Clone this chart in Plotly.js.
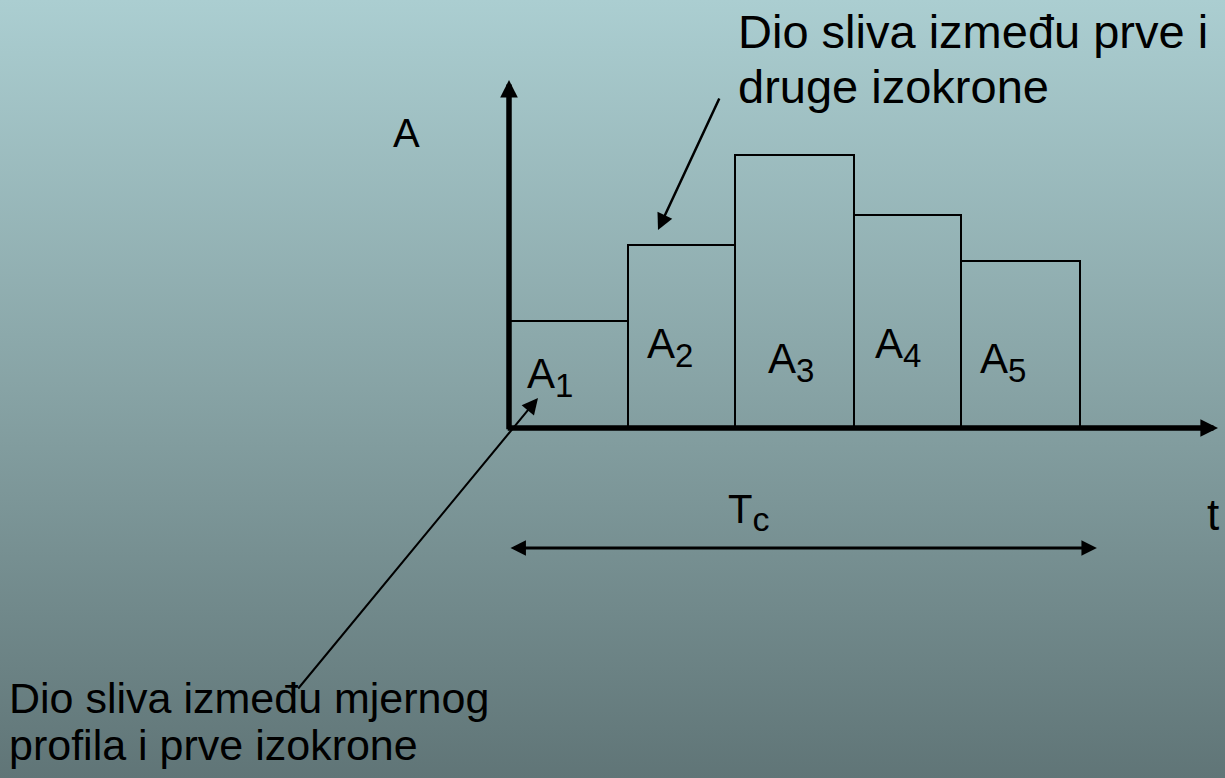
<!DOCTYPE html>
<html>
<head>
<meta charset="utf-8">
<script src="https://cdn.plot.ly/plotly-3.0.1.min.js"></script>
<style>
  html, body { margin: 0; padding: 0; width: 1225px; height: 778px; overflow: hidden;
    background: linear-gradient(to bottom, rgb(171,206,209) 0%, rgb(135,163,165) 50%, rgb(96,117,119) 100%); }
  #chart { width: 1225px; height: 778px; }
</style>
</head>
<body>
<div id="chart"></div>
<script>
// ---- data ----
const categories = ['A1', 'A2', 'A3', 'A4', 'A5'];
const barIndex = ['1', '2', '3', '4', '5'];
const barStart = [0, 1.0, 1.9, 2.9, 3.8];      // time at left edge of each isochrone strip
const barWidth = [1.0, 0.9, 1.0, 0.9, 1.0];    // duration of each strip
const barArea  = [1.07, 1.83, 2.73, 2.13, 1.67]; // area between isochrones
const Tc = 4.94;                                // time of concentration
const axisLabelY = 'A';
const axisLabelX = 't';
const noteTop = ['Dio sliva između prve i', 'druge izokrone'];
const noteBottom = ['Dio sliva između mjernog', 'profila i prve izokrone'];

// ---- layout helpers ----
const W = 1225, H = 778;
const X0 = 509, Y0 = 428, SX = 119, SY = 100; // pixel origin and scale
const px2x = p => (p - X0) / SX;
const px2y = p => (Y0 - p) / SY;
const FONT = 'Liberation Sans, Arial, sans-serif';
const sub = (main, idx, size) => main + '<sub><span style="font-size:' + size + 'px">' + idx + '</span></sub>';

const barCenters = barStart.map((s, i) => s + barWidth[i] / 2);

const trace = {
  type: 'bar',
  x: barCenters,
  y: barArea,
  width: barWidth,
  base: 0,
  name: 'area',
  text: categories,
  textposition: 'none',
  hoverinfo: 'skip',
  marker: { color: 'rgba(0,0,0,0)', line: { color: '#000', width: 2 } }
};

function textAnn(text, leftPx, basePx, size) {
  return {
    text: text, xref: 'paper', yref: 'paper',
    x: leftPx / W, y: 1 - (basePx - 0.905 * size) / H,
    xanchor: 'left', yanchor: 'top', showarrow: false,
    borderpad: 0, borderwidth: 0, align: 'left',
    font: { family: FONT, size: size, color: '#000' }
  };
}
function arrowAnn(x, y, ax, ay, w, head, size, both) {
  const a = {
    text: '', x: x, y: y, ax: ax, ay: ay,
    xref: 'x', yref: 'y', axref: 'x', ayref: 'y',
    showarrow: true, arrowhead: head, arrowsize: size, arrowwidth: w,
    arrowcolor: '#000', standoff: 0, startstandoff: 0
  };
  if (both) { a.arrowside = 'end+start'; a.startarrowhead = head; a.startarrowsize = size; }
  return a;
}

const labelPos = [[527, 388], [647, 358], [768, 373], [875, 358], [980, 373]];

const annotations = [
  // axes
  arrowAnn(0, px2y(80), 0, px2y(430.8), 5.5, 2, 0.64),
  arrowAnn(px2x(1218), 0, px2x(506.2), 0, 5.5, 2, 0.64),
  // Tc span
  arrowAnn(Tc, px2y(548), 0, px2y(548), 3, 2, 1.03, true),
  // pointer arrows
  arrowAnn(px2x(658), px2y(230), px2x(720), px2y(97), 2.5, 2, 1.3),
  arrowAnn(px2x(538), px2y(398), px2x(297), px2y(690), 2, 2, 1.6),
  // text
  textAnn(axisLabelY, 393, 147, 40),
  textAnn(axisLabelX, 1207, 530, 44),
  textAnn(sub('T', 'c', 34), 728, 523, 40),
  textAnn(noteTop[0], 738, 48, 47),
  textAnn(noteTop[1], 738, 103, 47),
  textAnn(noteBottom[0], 9, 713, 43),
  textAnn(noteBottom[1], 9, 760, 43)
];
barIndex.forEach((d, i) => annotations.push(textAnn(sub('A', d, 33), labelPos[i][0], labelPos[i][1], 42)));

const layout = {
  width: W, height: H,
  margin: { l: 0, r: 0, t: 0, b: 0, pad: 0 },
  paper_bgcolor: 'rgba(0,0,0,0)',
  plot_bgcolor: 'rgba(0,0,0,0)',
  showlegend: false,
  xaxis: { range: [px2x(0), px2x(W)], visible: false, fixedrange: true },
  yaxis: { range: [px2y(H), px2y(0)], visible: false, fixedrange: true },
  bargap: 0,
  annotations: annotations,
  hovermode: false
};

Plotly.newPlot('chart', [trace], layout, { displayModeBar: false });
</script>
</body>
</html>
